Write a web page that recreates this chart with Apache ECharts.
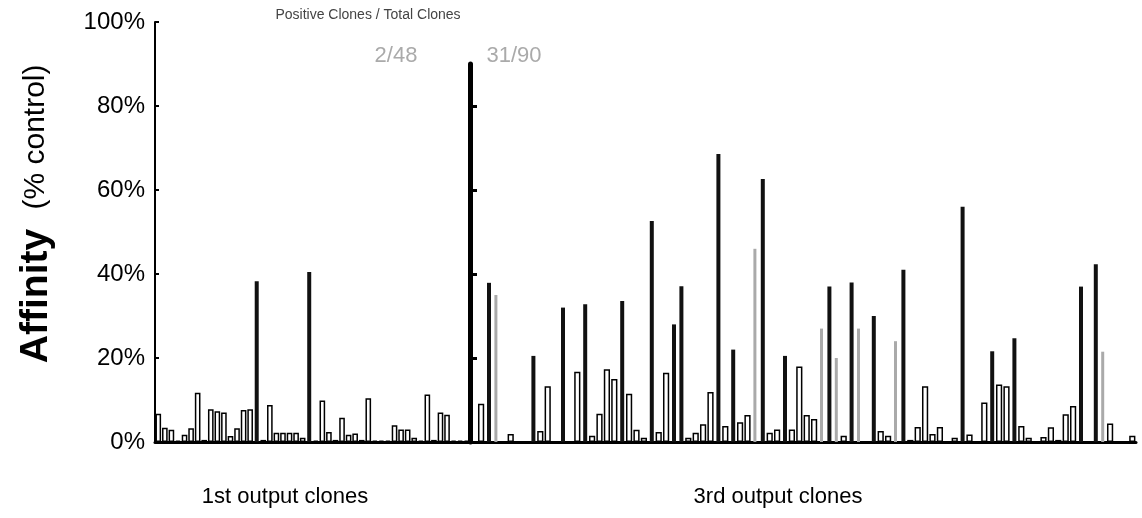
<!DOCTYPE html>
<html>
<head>
<meta charset="utf-8">
<script src="https://cdn.jsdelivr.net/npm/echarts@6/dist/echarts.min.js"></script>
<style>
html,body{margin:0;padding:0;background:#fff;}
#chart{width:1142px;height:518px;}
</style>
</head>
<body>
<div id="chart"></div>
<script>
// ---- data ----
const yTickLabels = ['0%','20%','40%','60%','80%','100%'];
const firstClones = Array.from({length:48}, (_, i) => 'C1-' + (i + 1));
const thirdClones = Array.from({length:90}, (_, i) => 'C3-' + (i + 1));

const firstNegative = [6.7,3.4,2.9,0.3,1.7,3.3,11.7,0.5,7.8,7.3,7.0,1.4,3.3,7.6,7.8,0,
  0.5,8.8,2.2,2.2,2.2,2.2,1.0,0,0.3,9.9,2.4,0.5,5.8,1.7,2.0,0.5,
  10.4,0.3,0.3,0.3,4.0,3.0,3.0,1.0,0.3,11.3,0.5,7.0,6.5,0.3,0.3,0.3];
const firstPositive = [0,0,0,0,0,0,0,0,0,0,0,0,0,0,0,38.3,
  0,0,0,0,0,0,0,40.5,0,0,0,0,0,0,0,0,
  0,0,0,0,0,0,0,0,0,0,0,0,0,0,0,0];

const thirdNegative = [0,9.1,0,0,0,1.9,0,0,0,2.6,
  13.3,0,0,0,16.7,0,1.5,6.7,17.3,15,
  0,11.5,2.9,1,0,2.4,16.5,0,0,1,
  2.2,4.2,11.9,0,3.8,0,4.7,6.4,0,0,
  2.2,3,0,3,18,6.4,5.5,0,0,0,
  1.5,0,0,0,0,2.6,1.5,0,0,0.5,
  3.6,13.3,1.9,3.6,0,1,0,1.8,0,9.4,
  0,13.7,13.3,0,3.8,1,0,1.2,3.5,0.5,
  6.6,8.6,0,0,0,0,4.4,0,0,1.5];
const thirdPositive = [0,0,37.9,0,0,0,0,0,20.5,0,
  0,0,32,0,0,32.8,0,0,0,0,
  33.6,0,0,0,52.6,0,0,28,37.1,0,
  0,0,0,68.6,0,22,0,0,0,62.6,
  0,0,20.5,0,0,0,0,0,37,0,
  0,38,0,0,30,0,0,0,41,0,
  0,0,0,0,0,0,56,0,0,0,
  21.6,0,0,24.7,0,0,0,0,0,0,
  0,0,37,0,42.3,0,0,0,0,0];
const thirdPositiveFaint = [0,0,0,35,0,0,0,0,0,0,
  0,0,0,0,0,0,0,0,0,0,
  0,0,0,0,0,0,0,0,0,0,
  0,0,0,0,0,0,0,0,46,0,
  0,0,0,0,0,0,0,27,0,20,
  0,0,27,0,0,0,0,24,0,0,
  0,0,0,0,0,0,0,0,0,0,
  0,0,0,0,0,0,0,0,0,0,
  0,0,0,0,0,21.5,0,0,0,0];

const groupLabels = ['1st output clones', '3rd output clones'];
const ratioTitle = 'Positive Clones / Total Clones';
const ratios = ['2/48', '31/90'];

// ---- chart ----
const chart = echarts.init(document.getElementById('chart'), null, {renderer:'canvas'});
const FONT = 'Liberation Sans, Arial, Helvetica, sans-serif';

function catAxis(grid, data, show) {
  return {
    type:'category', gridIndex:grid, data:data, show:show,
    axisLine:{show:true, lineStyle:{color:'#000', width:3}},
    axisTick:{show:false}, axisLabel:{show:false}, splitLine:{show:false}
  };
}
const negStyle = {color:'#fff', borderColor:'#000', borderWidth:1.5};

chart.setOption({
  animation:false,
  backgroundColor:'#fff',
  grid:[
    {left:155, right:672, top:22, bottom:76},
    {left:470, right:6, top:64, bottom:76}
  ],
  xAxis:[
    catAxis(0, firstClones, true),
    catAxis(0, firstClones, false),
    catAxis(1, thirdClones, true),
    catAxis(1, thirdClones, false)
  ],
  yAxis:[
    {type:'value', gridIndex:0, min:0, max:100, interval:20,
     axisLine:{show:true, lineStyle:{color:'#000', width:2}},
     axisTick:{show:true, inside:true, length:4, lineStyle:{color:'#000', width:2}},
     axisLabel:{formatter:(v)=>yTickLabels[v/20], color:'#000', fontSize:24, fontFamily:FONT, margin:10},
     splitLine:{show:false}},
    {type:'value', gridIndex:1, min:0, max:90,
     axisLine:{show:true, lineStyle:{color:'#000', width:5}},
     axisTick:{show:true, inside:true, length:7, customValues:[20,40,60,80], lineStyle:{color:'#000', width:3}},
     axisLabel:{show:false},
     splitLine:{show:false}}
  ],
  series:[
    {type:'bar', xAxisIndex:0, yAxisIndex:0, data:firstNegative, barCategoryGap:'14%', itemStyle:negStyle, z:3},
    {type:'bar', xAxisIndex:1, yAxisIndex:0, data:firstPositive, barWidth:4, itemStyle:{color:'#111'}, z:4},
    {type:'bar', xAxisIndex:2, yAxisIndex:1, data:thirdNegative, barCategoryGap:'16%', itemStyle:negStyle, z:3},
    {type:'bar', xAxisIndex:3, yAxisIndex:1, data:thirdPositive, barWidth:4, barGap:'-100%', itemStyle:{color:'#111'}, z:4},
    {type:'bar', xAxisIndex:3, yAxisIndex:1, data:thirdPositiveFaint, barWidth:3, barGap:'-100%', itemStyle:{color:'#aaa'}, z:4}
  ],
  graphic:[
    {type:'text', x:36, y:296, rotation:Math.PI/2,
     style:{text:'Affinity', font:'bold 39px ' + FONT, fill:'#000', textAlign:'center', textVerticalAlign:'middle'}},
    {type:'text', x:36, y:137, rotation:Math.PI/2,
     style:{text:'(% control)', font:'30px ' + FONT, fill:'#000', textAlign:'center', textVerticalAlign:'middle'}},
    {type:'text', x:368, y:15,
     style:{text:ratioTitle, font:'14px ' + FONT, fill:'#444', textAlign:'center', textVerticalAlign:'middle'}},
    {type:'text', x:396, y:56,
     style:{text:ratios[0], font:'22px ' + FONT, fill:'#aaa', textAlign:'center', textVerticalAlign:'middle'}},
    {type:'text', x:514, y:56,
     style:{text:ratios[1], font:'22px ' + FONT, fill:'#aaa', textAlign:'center', textVerticalAlign:'middle'}},
    {type:'text', x:285, y:497,
     style:{text:groupLabels[0], font:'22px ' + FONT, fill:'#000', textAlign:'center', textVerticalAlign:'middle'}},
    {type:'text', x:778, y:497,
     style:{text:groupLabels[1], font:'22px ' + FONT, fill:'#000', textAlign:'center', textVerticalAlign:'middle'}}
  ]
});
</script>
</body>
</html>
